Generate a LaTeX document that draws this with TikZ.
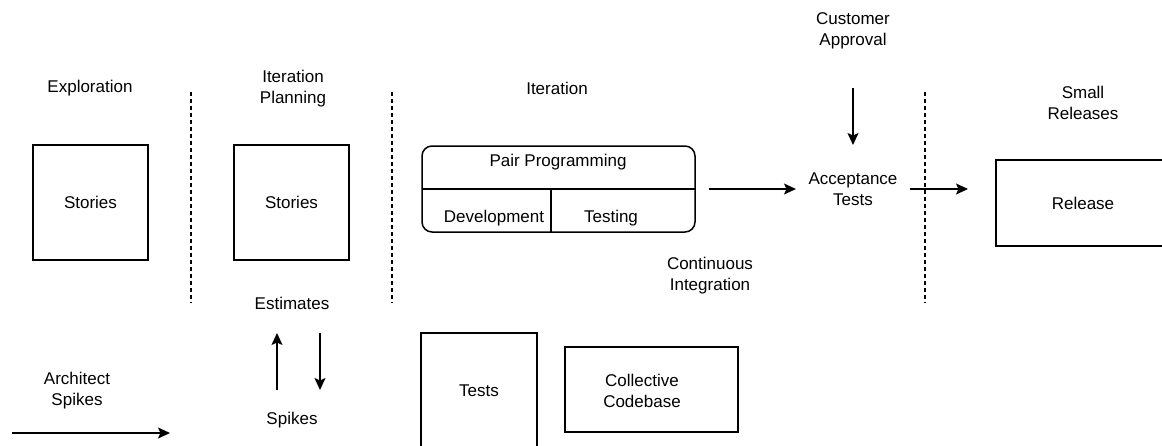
\documentclass[tikz,border=0pt]{standalone}
\usepackage{fontspec}
\setmainfont{Liberation Sans}
\usetikzlibrary{arrows.meta}
\begin{document}
\begin{tikzpicture}[x=1pt,y=-1pt,inner sep=0pt,outer sep=0pt,line width=1.5pt,
>={Stealth[length=12pt,width=11pt,inset=2.5pt]},
every node/.style={font=\fontsize{17}{21}\selectfont,align=center},
stagebox/.style={draw,rectangle,minimum width=115pt,minimum height=115pt},
phaseline/.style={dash pattern=on 4pt off 3pt,line width=1.3pt}]
\useasboundingbox (0,0) rectangle (1162,445);
\clip (0,0) rectangle (1162,445);
% phase headings
\draw (90,88) node (explore) {Exploration};
\draw (293,89) node (planning) {Iteration\\Planning};
\draw (557,88) node (iter) {Iteration};
\draw (853,31) node[minimum height=114pt] (customer) {Customer\\Approval};
\draw (1083,103) node (small) {Small\\Releases};
\draw[phaseline] (191,92) -- (191,303);
\draw[phaseline] (392,92) -- (392,303);
\draw[phaseline] (925,92) -- (925,303);
% boxes
\draw (90.5,202.5) node[stagebox] (stories1) {Stories};
\draw (291.5,202.5) node[stagebox] (stories2) {Stories};
\draw (558.5,189) node[draw,rectangle,rounded corners=10pt,minimum width=273pt,minimum height=86pt] (pair) {};
\draw (pair.west) -- (pair.east);
\draw (551,189) -- (551,232);
\draw (558,162) node (pairtxt) {Pair Programming};
\draw (494,218) node (dev) {Development};
\draw (611,218) node (testing) {Testing};
\draw (853,189) node[minimum width=114pt,minimum height=88pt] (accept) {Acceptance\\Tests};
\draw (1083,203) node[draw,rectangle,minimum width=174pt,minimum height=86pt] (release) {Release};
\draw (710,276) node (ci) {Continuous\\Integration};
\draw (292,303) node[minimum height=60pt] (estimates) {Estimates};
\draw (292,420) node[minimum height=60pt] (spikes) {Spikes};
\draw (77,391) node (arch) {Architect\\Spikes};
\draw (479,390.5) node[draw,rectangle,minimum width=116pt,minimum height=115pt] (tests) {Tests};
\draw (651.5,389.5) node[draw,rectangle,minimum width=173pt,minimum height=85pt] (codebase) {};
\draw (642,391) node (codetxt) {Collective\\Codebase};
\coordinate (archL) at (12,433);
\coordinate (archR) at (170,433);
% arrows
\draw[->,shorten <=14pt] (pair) -- (accept);
\draw[->,shorten >=28pt] (accept.east) -- (accept.east -| release.west);
\draw[->] (customer) -- (accept);
\draw[->] ([xshift=-15pt]spikes.north) -- ([xshift=-15pt]estimates.south);
\draw[->] ([xshift=28pt]estimates.south) -- ([xshift=28pt]spikes.north);
\draw[->] (archL) -- (archR);
\end{tikzpicture}
\end{document}
